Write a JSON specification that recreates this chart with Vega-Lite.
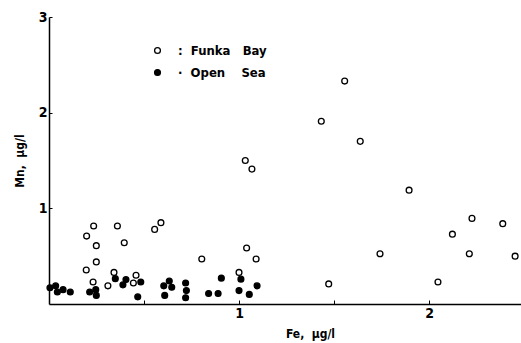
{
  "$schema": "https://vega.github.io/schema/vega-lite/v6.json",
  "width": 472,
  "height": 287,
  "autosize": "none",
  "padding": {"left": 49, "top": 17, "right": 0, "bottom": 39},
  "background": "white",
  "config": {
    "view": {"stroke": null},
    "font": "DejaVu Sans Condensed",
    "axis": {"grid": false, "domainColor": "black", "tickColor": "black", "labelColor": "black", "titleColor": "black", "labelFont": "DejaVu Sans Condensed", "titleFont": "DejaVu Sans Condensed", "labelFontWeight": "bold", "titleFontWeight": "bold", "labelFontSize": 14, "titleFontSize": 12, "domainWidth": 1.5, "labelOverlap": false}
  },
  "data": {
    "values": [
      {"fe": 0.198, "mn": 0.71, "site": "Funka Bay"},
      {"fe": 0.235, "mn": 0.815, "site": "Funka Bay"},
      {"fe": 0.249, "mn": 0.61, "site": "Funka Bay"},
      {"fe": 0.249, "mn": 0.44, "site": "Funka Bay"},
      {"fe": 0.196, "mn": 0.355, "site": "Funka Bay"},
      {"fe": 0.232, "mn": 0.23, "site": "Funka Bay"},
      {"fe": 0.31, "mn": 0.19, "site": "Funka Bay"},
      {"fe": 0.342, "mn": 0.33, "site": "Funka Bay"},
      {"fe": 0.36, "mn": 0.815, "site": "Funka Bay"},
      {"fe": 0.396, "mn": 0.64, "site": "Funka Bay"},
      {"fe": 0.458, "mn": 0.30, "site": "Funka Bay"},
      {"fe": 0.444, "mn": 0.22, "site": "Funka Bay"},
      {"fe": 0.556, "mn": 0.78, "site": "Funka Bay"},
      {"fe": 0.589, "mn": 0.85, "site": "Funka Bay"},
      {"fe": 0.804, "mn": 0.47, "site": "Funka Bay"},
      {"fe": 1.0, "mn": 0.33, "site": "Funka Bay"},
      {"fe": 1.033, "mn": 1.50, "site": "Funka Bay"},
      {"fe": 1.068, "mn": 1.41, "site": "Funka Bay"},
      {"fe": 1.04, "mn": 0.585, "site": "Funka Bay"},
      {"fe": 1.09, "mn": 0.47, "site": "Funka Bay"},
      {"fe": 1.556, "mn": 2.33, "site": "Funka Bay"},
      {"fe": 1.433, "mn": 1.91, "site": "Funka Bay"},
      {"fe": 1.638, "mn": 1.70, "site": "Funka Bay"},
      {"fe": 1.895, "mn": 1.19, "site": "Funka Bay"},
      {"fe": 1.472, "mn": 0.21, "site": "Funka Bay"},
      {"fe": 1.742, "mn": 0.525, "site": "Funka Bay"},
      {"fe": 2.047, "mn": 0.23, "site": "Funka Bay"},
      {"fe": 2.123, "mn": 0.73, "site": "Funka Bay"},
      {"fe": 2.226, "mn": 0.895, "site": "Funka Bay"},
      {"fe": 2.212, "mn": 0.525, "site": "Funka Bay"},
      {"fe": 2.388, "mn": 0.84, "site": "Funka Bay"},
      {"fe": 2.453, "mn": 0.50, "site": "Funka Bay"},
      {"fe": 0.005, "mn": 0.17, "site": "Open Sea"},
      {"fe": 0.035, "mn": 0.19, "site": "Open Sea"},
      {"fe": 0.044, "mn": 0.125, "site": "Open Sea"},
      {"fe": 0.074, "mn": 0.15, "site": "Open Sea"},
      {"fe": 0.112, "mn": 0.125, "site": "Open Sea"},
      {"fe": 0.214, "mn": 0.125, "site": "Open Sea"},
      {"fe": 0.246, "mn": 0.15, "site": "Open Sea"},
      {"fe": 0.249, "mn": 0.09, "site": "Open Sea"},
      {"fe": 0.349, "mn": 0.265, "site": "Open Sea"},
      {"fe": 0.389, "mn": 0.2, "site": "Open Sea"},
      {"fe": 0.405, "mn": 0.255, "site": "Open Sea"},
      {"fe": 0.467, "mn": 0.075, "site": "Open Sea"},
      {"fe": 0.483, "mn": 0.23, "site": "Open Sea"},
      {"fe": 0.604, "mn": 0.19, "site": "Open Sea"},
      {"fe": 0.633, "mn": 0.24, "site": "Open Sea"},
      {"fe": 0.646, "mn": 0.175, "site": "Open Sea"},
      {"fe": 0.609, "mn": 0.09, "site": "Open Sea"},
      {"fe": 0.719, "mn": 0.22, "site": "Open Sea"},
      {"fe": 0.723, "mn": 0.14, "site": "Open Sea"},
      {"fe": 0.719, "mn": 0.065, "site": "Open Sea"},
      {"fe": 0.84, "mn": 0.11, "site": "Open Sea"},
      {"fe": 0.89, "mn": 0.11, "site": "Open Sea"},
      {"fe": 0.907, "mn": 0.27, "site": "Open Sea"},
      {"fe": 1.01, "mn": 0.26, "site": "Open Sea"},
      {"fe": 1.0, "mn": 0.14, "site": "Open Sea"},
      {"fe": 1.054, "mn": 0.10, "site": "Open Sea"},
      {"fe": 1.095, "mn": 0.19, "site": "Open Sea"}
    ]
  },
  "mark": {"type": "point", "shape": "circle", "size": 34, "stroke": "black", "strokeWidth": 1.3, "opacity": 1},
  "encoding": {
    "x": {
      "field": "fe", "type": "quantitative",
      "scale": {"domain": [0, 2.484], "nice": false, "zero": true},
      "axis": {"title": "Fe,\u00a0\u00a0µg/l", "values": [0.5, 1, 1.5, 2], "labelExpr": "datum.value == 1 ? '1' : datum.value == 2 ? '2' : ''", "tickSize": -4, "labelPadding": 6, "titleX": 261, "titleY": 29, "titleBaseline": "middle", "titleAnchor": "middle", "titleAlign": "center"}
    },
    "y": {
      "field": "mn", "type": "quantitative",
      "scale": {"domain": [0, 3], "nice": false},
      "axis": {"title": "Mn,\u00a0\u00a0µg/l", "values": [1, 2, 3], "format": "d", "tickSize": -3, "labelPadding": 5, "titlePadding": 12}
    },
    "fill": {
      "field": "site", "type": "nominal",
      "scale": {"domain": ["Funka Bay", "Open Sea"], "range": ["white", "black"]},
      "legend": {
        "title": null, "orient": "none", "legendX": 102, "legendY": 27, "padding": 0,
        "symbolType": "circle", "symbolSize": 34, "symbolStrokeColor": "black", "symbolStrokeWidth": 1.3,
        "labelExpr": "datum.label == 'Funka Bay' ? ':\u00a0\u00a0Funka\u00a0\u00a0\u00a0Bay' : '·\u00a0\u00a0Open\u00a0\u00a0\u00a0\u00a0Sea'",
        "labelFont": "DejaVu Sans Condensed", "labelFontWeight": "bold", "labelFontSize": 13, "labelColor": "black",
        "labelOffset": 14, "rowPadding": 8
      }
    }
  }
}
